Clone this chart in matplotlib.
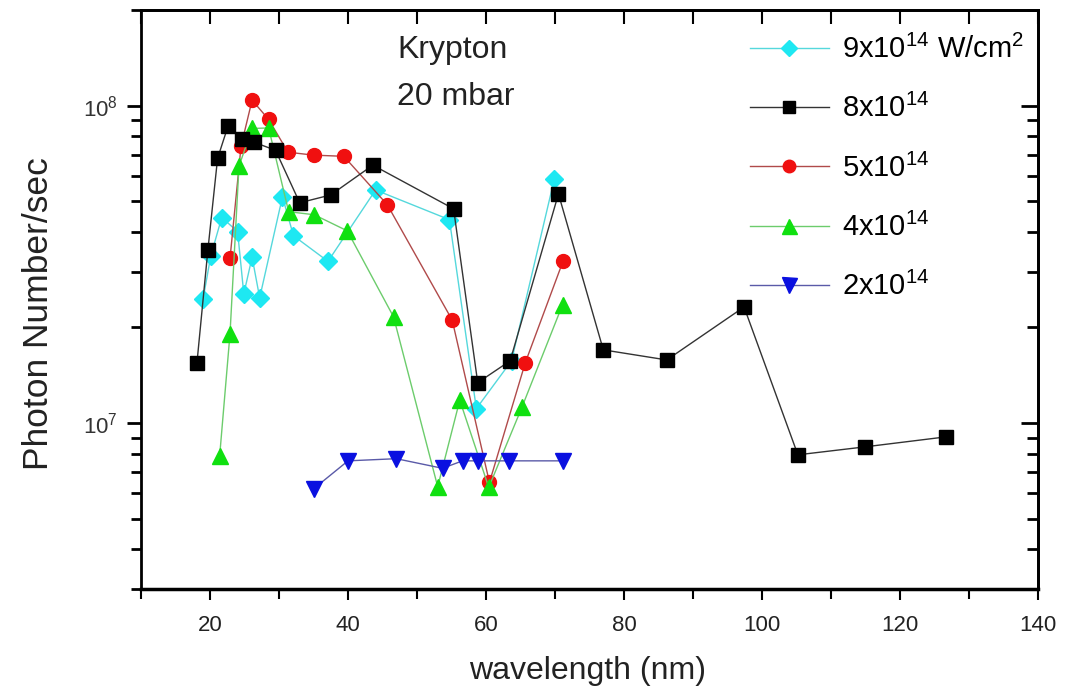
import matplotlib
matplotlib.use("Agg")
import matplotlib.pyplot as plt
from matplotlib.ticker import LogLocator, MultipleLocator, NullFormatter

plt.rcParams['font.family'] = ['Liberation Sans', 'DejaVu Sans']
plt.rcParams['mathtext.fontset'] = 'custom'
plt.rcParams['mathtext.rm'] = 'Liberation Sans'
plt.rcParams['mathtext.it'] = 'Liberation Sans'
plt.rcParams['mathtext.default'] = 'regular'

# Krypton harmonic yield, 20 mbar, for several laser intensities
wl_9e14 = [19.0, 20.1, 21.7, 24.0, 24.9, 26.1, 27.2, 30.5, 32.1, 37.1, 44.0, 54.7, 58.6, 63.7, 69.9]
ph_9e14 = [2.46e7, 3.35e7, 4.44e7, 4.01e7, 2.55e7, 3.33e7, 2.48e7, 5.16e7, 3.89e7, 3.23e7,
           5.42e7, 4.37e7, 1.11e7, 1.57e7, 5.87e7]

wl_8e14 = [18.1, 19.7, 21.1, 22.6, 24.6, 26.4, 29.5, 33.0, 37.5, 43.6, 55.3, 58.8, 63.5, 70.5,
           77.0, 86.2, 97.4, 105.2, 114.9, 126.6]
ph_8e14 = [1.54e7, 3.52e7, 6.82e7, 8.6e7, 7.85e7, 7.66e7, 7.23e7, 4.94e7, 5.23e7, 6.49e7,
           4.73e7, 1.34e7, 1.57e7, 5.27e7, 1.70e7, 1.58e7, 2.32e7, 7.94e6, 8.41e6, 9.04e6]

wl_5e14 = [22.9, 24.5, 26.1, 28.5, 31.3, 35.0, 39.4, 45.7, 55.1, 60.5, 65.7, 71.2]
ph_5e14 = [3.30e7, 7.45e7, 1.04e8, 9.04e7, 7.13e7, 6.98e7, 6.92e7, 4.87e7, 2.11e7, 6.5e6,
           1.55e7, 3.25e7]

wl_4e14 = [21.4, 22.9, 24.2, 26.1, 28.5, 31.4, 35.1, 39.9, 46.6, 53.0, 56.2, 60.4, 65.2, 71.1]
ph_4e14 = [7.88e6, 1.91e7, 6.44e7, 8.47e7, 8.5e7, 4.63e7, 4.53e7, 4.03e7, 2.16e7, 6.3e6,
           1.18e7, 6.27e6, 1.12e7, 2.36e7]

wl_2e14 = [35.0, 40.0, 47.0, 53.7, 56.6, 58.9, 63.4, 71.2]
ph_2e14 = [6.2e6, 7.6e6, 7.72e6, 7.2e6, 7.6e6, 7.6e6, 7.6e6, 7.6e6]

labels = [r'9x10$^{14}$ W/cm$^{2}$', r'8x10$^{14}$', r'5x10$^{14}$', r'4x10$^{14}$', r'2x10$^{14}$']

fig = plt.figure(figsize=(10.81, 6.90), dpi=100)
ax = fig.add_axes([141 / 1081, 1 - 589 / 690, (1038 - 141) / 1081, (589 - 10) / 690])

ms = 10
ax.plot(wl_9e14, ph_9e14, color='#55d8dc', lw=1.0, marker='D', ms=ms * 0.9,
        mfc='#1ee8f2', mec='#1ee8f2', label=labels[0], zorder=3)
ax.plot(wl_8e14, ph_8e14, color='#333333', lw=1.0, marker='s', ms=ms,
        mfc='black', mec='black', label=labels[1], zorder=4)
ax.plot(wl_5e14, ph_5e14, color='#b04a4a', lw=1.0, marker='o', ms=ms,
        mfc='#f01010', mec='#f01010', label=labels[2], zorder=3)
ax.plot(wl_4e14, ph_4e14, color='#6ccc6c', lw=1.0, marker='^', ms=ms * 1.2,
        mfc='#10e010', mec='#10e010', label=labels[3], zorder=3)
ax.plot(wl_2e14, ph_2e14, color='#5a5aa8', lw=1.0, marker='v', ms=ms * 1.2,
        mfc='#0a10e0', mec='#0a10e0', label=labels[4], zorder=3)

ax.set_xscale('linear')
ax.set_yscale('log')
ax.set_xlim(10, 140)
ax.set_ylim(3e6, 2e8)

for s in ax.spines.values():
    s.set_linewidth(2.0)
ax.spines['bottom'].set_linewidth(2.5)

ax.xaxis.set_major_locator(MultipleLocator(20))
ax.xaxis.set_minor_locator(MultipleLocator(10))
ax.yaxis.set_major_locator(LogLocator(base=10))
ax.yaxis.set_minor_locator(LogLocator(base=10, subs=range(2, 10)))
ax.yaxis.set_minor_formatter(NullFormatter())

ax.tick_params(axis='x', which='major', direction='out', length=8, width=1.5,
               labelsize=16, pad=11, labelcolor='#222222')
ax.tick_params(axis='x', which='minor', direction='out', length=7, width=1.5)
ax.tick_params(axis='y', which='major', direction='out', length=10, width=2,
               labelsize=16, pad=6.5, labelcolor='#333333')
ax.tick_params(axis='y', which='minor', direction='out', length=7, width=2)

# inward ticks on the top and right frames
top = ax.secondary_xaxis('top')
top.xaxis.set_major_locator(MultipleLocator(10))
top.tick_params(axis='x', which='major', direction='in', length=10, width=1.5, labeltop=False)
top.spines['top'].set_linewidth(2.0)

right = ax.secondary_yaxis('right')
right.yaxis.set_major_locator(LogLocator(base=10))
right.yaxis.set_minor_locator(LogLocator(base=10, subs=range(2, 10)))
right.yaxis.set_minor_formatter(NullFormatter())
right.tick_params(axis='y', which='major', direction='in', length=12, width=2, labelright=False)
right.tick_params(axis='y', which='minor', direction='in', length=8, width=2)
right.spines['right'].set_linewidth(2.0)

ax.set_xlabel('wavelength (nm)', fontsize=23, color='#222222')
ax.xaxis.set_label_coords(0.498, -0.115)
ax.set_ylabel('Photon Number/sec', fontsize=25.5, color='#222222')
ax.yaxis.set_label_coords(-0.096, 0.476)

ax.text(0.2854, 0.917, 'Krypton', transform=ax.transAxes, fontsize=23, color='#222222',
        va='baseline', ha='left')
ax.text(0.2854, 0.836, '20 mbar', transform=ax.transAxes, fontsize=23, color='#222222',
        va='baseline', ha='left')

ax.legend(loc='upper left', bbox_to_anchor=(750 / 1081, 1 - 35 / 690),
          bbox_transform=fig.transFigure, frameon=False, fontsize=21,
          handlelength=2.7, handletextpad=0.45, labelspacing=1.03, borderpad=0,
          borderaxespad=0, numpoints=1, markerscale=0.9)

fig.savefig('out.png', dpi=100)
